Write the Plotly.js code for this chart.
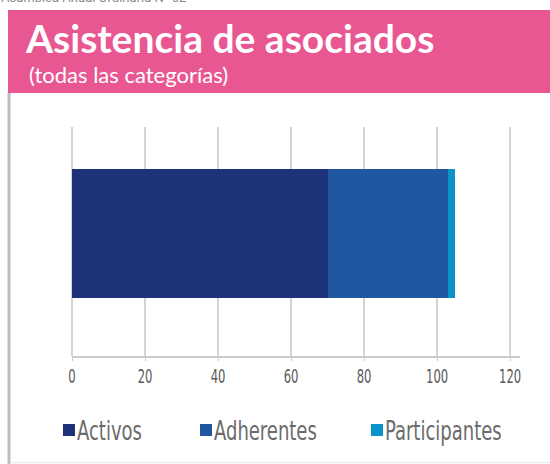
<!DOCTYPE html>
<html><head><meta charset="utf-8">
<script src="https://cdn.plot.ly/plotly-3.0.1.min.js"></script>
<style>html,body{margin:0;padding:0;background:#fff;}#chart{width:550px;height:464px;}
.legendtext,.xtick text{font-stretch:condensed !important;}</style>
</head><body><div id="chart"></div>
<script>
const categories = ["Asistencia"];
const seriesNames = ["Activos", "Adherentes", "Participantes"];
const activos = [70];
const adherentes = [33];
const participantes = [2];
const xTicks = [0, 20, 40, 60, 80, 100, 120];
const colors = ["#1E327A", "#2157A0", "#0A93C9"];

const W = 550, H = 464, L = 72, R = 30, T = 127, B = 108;
const pw = W - L - R, ph = H - T - B;
const px = x => (x - L) / pw;
const py = y => (H - B - y) / ph;
const narrow = "DejaVu Sans, sans-serif";

const values = [activos, adherentes, participantes];
const data = seriesNames.map((n, i) => ({
  type: "bar", orientation: "h", name: n, y: categories, x: values[i],
  marker: {color: colors[i], line: {width: 0}}, width: 0.563,
  hoverinfo: "x+name"
}));

const layout = {
  width: W, height: H,
  margin: {l: L, r: R, t: T, b: B, autoexpand: false},
  paper_bgcolor: "#fff", plot_bgcolor: "#fff",
  barmode: "stack",
  showlegend: true,
  legend: {orientation: "h", x: px(49), xanchor: "left", y: py(430), yanchor: "middle",
    font: {family: narrow, size: 26, color: "#6b6b6b"}, entrywidth: 112, entrywidthmode: "pixels",
    itemwidth: 30, traceorder: "normal", bgcolor: "rgba(0,0,0,0)"},
  title: {text: "<b>Asistencia de asociados</b>", xref: "container", yref: "container",
    x: 26/W, xanchor: "left", y: 1 - 39/H, yanchor: "middle",
    font: {family: "Lato, Inter, sans-serif", size: 39, weight: 900, color: "#fff"}},
  xaxis: {range: [0, 122.7], tickvals: xTicks, ticktext: xTicks.map(String),
    showgrid: true, gridcolor: "#d4d4d4", gridwidth: 1.5,
    zeroline: true, zerolinecolor: "#d4d4d4", zerolinewidth: 1.5,
    showline: true, linecolor: "#cccccc", linewidth: 1.5,
    ticks: "outside", ticklen: 3, tickcolor: "#cccccc",
    tickfont: {family: narrow, size: 19, color: "#5a5a5a"}, fixedrange: true},
  yaxis: {range: [-0.535, 0.465], showticklabels: false, showgrid: false, zeroline: false,
    showline: false, ticks: "", fixedrange: true},
  shapes: [
    {type: "rect", xref: "paper", yref: "paper", x0: px(8), x1: px(551), y0: py(93), y1: py(10),
      fillcolor: "#E95793", line: {width: 0}, layer: "below"},
    {type: "line", xref: "paper", yref: "paper", x0: px(9), x1: px(9), y0: py(93), y1: py(464),
      line: {color: "#bdbdbd", width: 3}},
    {type: "line", xref: "paper", yref: "paper", x0: px(10), x1: px(551), y0: py(462.5), y1: py(462.5),
      line: {color: "#ececec", width: 1.5}}
  ],
  annotations: [
    {text: "(todas las categorías)", xref: "paper", yref: "paper", x: px(27), xanchor: "left",
      y: py(74), yanchor: "middle", showarrow: false,
      font: {family: "Lato, Inter, sans-serif", size: 22, color: "#fff"}},
    {text: "Asamblea Anual Ordinaria N° 62", xref: "paper", yref: "paper", x: px(-1), xanchor: "left",
      y: py(7), yanchor: "bottom", showarrow: false,
      font: {family: "Roboto, sans-serif", size: 13, color: "#8a8a8a"}}
  ]
};

function squeeze(t, s) {
  const x = parseFloat(t.getAttribute("x")) || 0;
  const tr = t.getAttribute("transform") || "";
  t.setAttribute("transform", tr + ` translate(${x},0) scale(${s},1) translate(${-x},0)`);
}

const legendOffsets = [0, 137, 308];

Plotly.newPlot("chart", data, layout, {displayModeBar: false, staticPlot: true}).then(gd => {
  gd.querySelectorAll(".legendtext").forEach(t => {
    t.setAttribute("x", parseFloat(t.getAttribute("x")) - 12);
    squeeze(t, 0.77);
  });
  gd.querySelectorAll(".xtick text").forEach(t => squeeze(t, 0.68));
  const items = gd.querySelectorAll(".legend .traces");
  let base = null;
  items.forEach((g, i) => {
    const m = /translate\(\s*([-\d.]+)[ ,]+([-\d.]+)\s*\)/.exec(g.getAttribute("transform") || "");
    if (!m) return;
    if (base === null) base = parseFloat(m[1]);
    g.setAttribute("transform", `translate(${base + legendOffsets[i]},${m[2]})`);
  });
});
</script></body></html>
